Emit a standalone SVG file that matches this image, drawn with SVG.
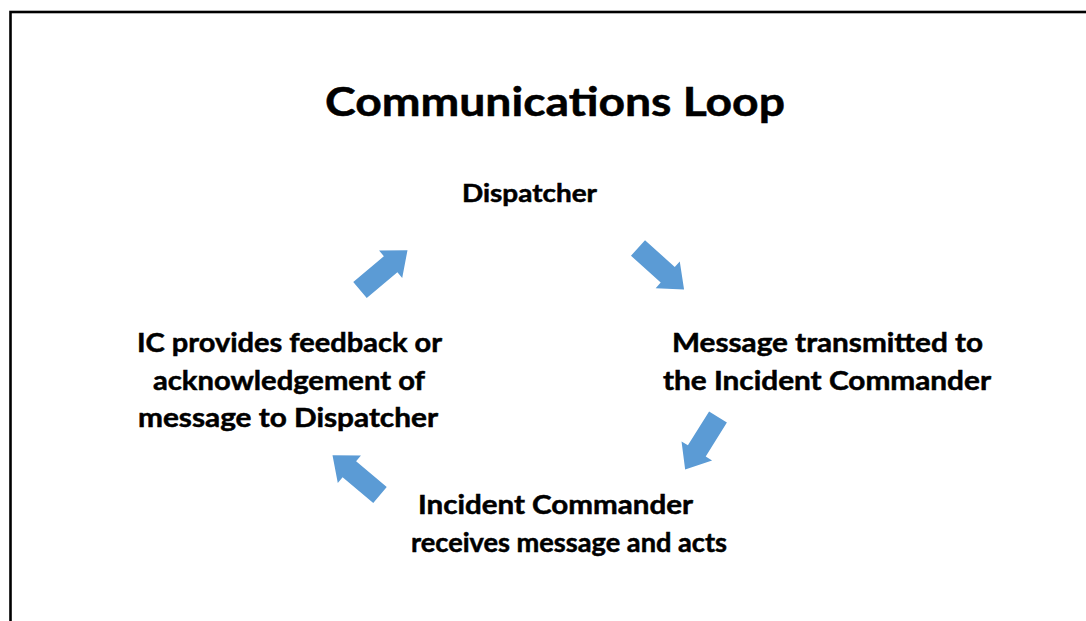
<svg xmlns="http://www.w3.org/2000/svg" width="1086" height="621" viewBox="0 0 1086 621">
<style>
.t{font-family:Lato,"Open Sans","Liberation Sans",sans-serif;font-weight:700;fill:#000;stroke:#000;stroke-width:0.5;}
.b{font-size:26px;}
.arrow{fill:#5B9BD5;}
</style>
<defs>
<path id="arr" d="M0,-10.5 L40,-10.5 L40,-18 L62,0 L40,18 L40,10.5 L0,10.5 Z"/>
</defs>
<rect x="0" y="0" width="1086" height="621" fill="#fff"/>
<rect x="10.5" y="12" width="1100" height="700" fill="#fff" stroke="#000" stroke-width="2.6"/>
<g id="title">
<text class="t" x="325" y="116" font-size="40" stroke-width="0.8" textLength="460" lengthAdjust="spacingAndGlyphs">Communications Loop</text>
</g>
<g id="dispatcher">
<text class="t" x="462" y="202" font-size="24" textLength="135" lengthAdjust="spacingAndGlyphs">Dispatcher</text>
</g>
<g id="message-transmitted">
<text class="t b" x="672" y="352" textLength="311" lengthAdjust="spacingAndGlyphs">Message transmitted to</text>
<text class="t b" x="663" y="390" textLength="328" lengthAdjust="spacingAndGlyphs">the Incident Commander</text>
</g>
<g id="ic-receives">
<text class="t b" x="418" y="514" textLength="275" lengthAdjust="spacingAndGlyphs">Incident Commander</text>
<text class="t b" x="411" y="552" textLength="316" lengthAdjust="spacingAndGlyphs">receives message and acts</text>
</g>
<g id="ic-feedback">
<text class="t b" x="137" y="352" textLength="305" lengthAdjust="spacingAndGlyphs">IC provides feedback or</text>
<text class="t b" x="153" y="390" textLength="272" lengthAdjust="spacingAndGlyphs">acknowledgement of</text>
<text class="t b" x="138" y="427" textLength="300" lengthAdjust="spacingAndGlyphs">message to Dispatcher</text>
</g>
<g id="connectors" class="arrow">
<use href="#arr" transform="translate(360,290) rotate(-40)"/>
<use href="#arr" transform="translate(638,248) rotate(42)"/>
<use href="#arr" transform="translate(718,417) rotate(122)"/>
<use href="#arr" transform="translate(380,495) rotate(-140)"/>
</g>
</svg>
